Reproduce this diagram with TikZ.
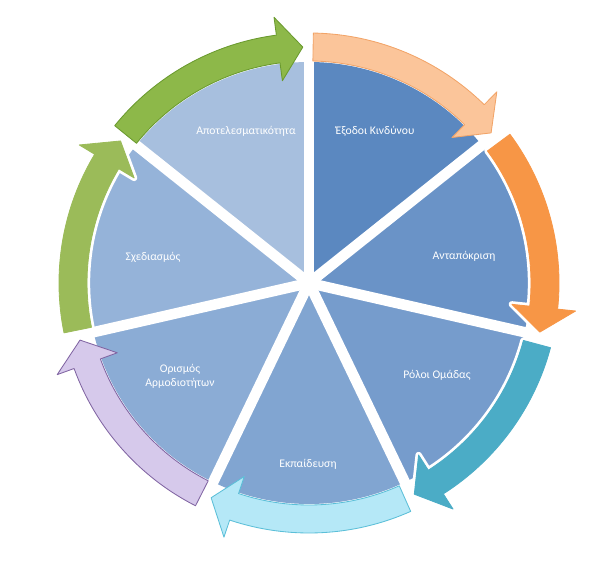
\documentclass[tikz,border=0pt]{standalone}
\usepackage{fontspec}
\setmainfont{Carlito}
\usepackage{xcolor}
\usetikzlibrary{positioning}

% sector colours
\definecolor{secEff}{HTML}{A7BFDE}
\definecolor{secExit}{HTML}{5B88C0}
\definecolor{secResp}{HTML}{6A93C7}
\definecolor{secRole}{HTML}{769CCC}
\definecolor{secTrain}{HTML}{81A5D1}
\definecolor{secDuty}{HTML}{8BACD5}
\definecolor{secPlan}{HTML}{95B3D9}
% arrow colours
\definecolor{arGreen}{HTML}{8DB849}
\definecolor{arGreenD}{HTML}{6A9A2E}
\definecolor{arPeach}{HTML}{FBC59A}
\definecolor{arPeachD}{HTML}{F2A468}
\definecolor{arOrange}{HTML}{F79646}
\definecolor{arTeal}{HTML}{4BACC6}
\definecolor{arCyan}{HTML}{B5E8F7}
\definecolor{arCyanD}{HTML}{5BBFD8}
\definecolor{arLav}{HTML}{D6C9EB}
\definecolor{arLavD}{HTML}{8064A2}
\definecolor{arOlive}{HTML}{9BBB59}

% curved arrow round the ring: #1 tail angle, #2 tip angle, #3 style
\newcommand{\ringarrow}[3]{%
  \path[#3] (#1:250) arc[start angle=#1, end angle=#2+6, radius=250]
    -- (#2+6:268) -- (#2:236) -- (#2+6:204) -- (#2+6:222)
    arc[start angle=#2+6, end angle=#1, radius=222] -- cycle;}

\begin{document}
\begin{tikzpicture}[
    x=0.025cm, y=0.025cm,
    gap/.style={draw=white, line width=7.5pt},
    ring/.style={line width=0.6pt, line join=round},
    halo/.style={ring, preaction={draw=white, line width=4.5pt, line join=round}},
    lbl/.style={text=white, align=center, font=\fontsize{8.3}{10}\selectfont},
]
\path[use as bounding box] (0,0) rectangle (600,562);

\begin{scope}[shift={(309,279)}]
% Sectors
\fill[secEff]   (0,0) -- (90:221)      arc[start angle=90, end angle=141.43, radius=221] -- cycle;
\fill[secExit]  (0,0) -- (38.57:221)   arc[start angle=38.57, end angle=90, radius=221] -- cycle;
\fill[secResp]  (0,0) -- (-12.86:221)  arc[start angle=-12.86, end angle=38.57, radius=221] -- cycle;
\fill[secRole]  (0,0) -- (-64.29:221)  arc[start angle=-64.29, end angle=-12.86, radius=221] -- cycle;
\fill[secTrain] (0,0) -- (-115.71:221) arc[start angle=-115.71, end angle=-64.29, radius=221] -- cycle;
\fill[secDuty]  (0,0) -- (-167.14:221) arc[start angle=-167.14, end angle=-115.71, radius=221] -- cycle;
\fill[secPlan]  (0,0) -- (141.43:221)  arc[start angle=141.43, end angle=192.86, radius=221] -- cycle;

% Gaps
\draw[gap] (0,0) -- (90:228);
\draw[gap] (0,0) -- (38.57:228);
\draw[gap] (0,0) -- (-12.86:228);
\draw[gap] (0,0) -- (-64.29:228);
\draw[gap] (0,0) -- (-115.71:228);
\draw[gap] (0,0) -- (-167.14:228);
\draw[gap] (0,0) -- (141.43:228);

% Arrows
\ringarrow{141}{91.5}{ring, fill=arGreen, draw=arGreenD}
\ringarrow{89}{39.5}{ring, fill=arPeach, draw=arPeachD}
\ringarrow{36.5}{-12}{halo, fill=arOrange, draw=arOrange}
\ringarrow{-15}{-63.5}{halo, fill=arTeal, draw=arTeal}
\ringarrow{-66}{-114.5}{ring, fill=arCyan, draw=arCyanD}
\ringarrow{-117}{-166}{ring, fill=arLav, draw=arLavD}
\ringarrow{191.5}{143}{halo, fill=arOlive, draw=arOlive}
\end{scope}

% Labels
\node[lbl] (eff)   at (246,431) {Αποτελεσματικότητα};
\node[lbl] (exit)  at (375,431) {Έξοδοι Κινδύνου};
\node[lbl] (resp)  at (464,306) {Ανταπόκριση};
\node[lbl] (roles) at (437,187) {Ρόλοι Ομάδας};
\node[lbl] (train) at (308,98)  {Εκπαίδευση};
\node[lbl] (duty)  at (180,186) {Ορισμός\\Αρμοδιοτήτων};
\node[lbl] (plan)  at (153,305) {Σχεδιασμός};

\end{tikzpicture}
\end{document}
